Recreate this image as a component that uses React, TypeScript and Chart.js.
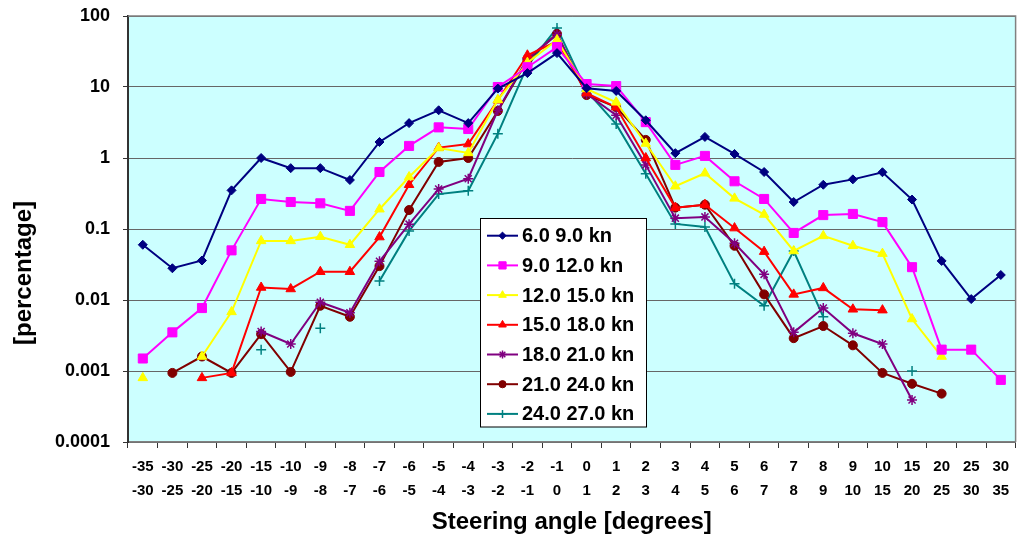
import React, { useEffect, useRef } from "react";
import { Chart, registerables } from "chart.js";
import { drawPoint } from "chart.js/helpers";

Chart.register(...registerables);

const FONT = '"Liberation Sans", Arial, Helvetica, sans-serif';

// Steering angle bins (two-line category labels)
const binFrom = ["-35", "-30", "-25", "-20", "-15", "-10", "-9", "-8", "-7", "-6", "-5", "-4", "-3", "-2", "-1", "0", "1", "2", "3", "4", "5", "6", "7", "8", "9", "10", "15", "20", "25", "30"];
const binTo = ["-30", "-25", "-20", "-15", "-10", "-9", "-8", "-7", "-6", "-5", "-4", "-3", "-2", "-1", "0", "1", "2", "3", "4", "5", "6", "7", "8", "9", "10", "15", "20", "25", "30", "35"];

const seriesNames = ["6.0 9.0 kn", "9.0 12.0 kn", "12.0 15.0 kn", "15.0 18.0 kn", "18.0 21.0 kn", "21.0 24.0 kn", "24.0 27.0 kn"];

const s6to9 = [0.06, 0.028, 0.036, 0.35, 1.0, 0.72, 0.72, 0.49, 1.68, 3.1, 4.7, 3.1, 9.5, 15.7, 30, 9.6, 8.8, 3.4, 1.17, 1.98, 1.14, 0.635, 0.24, 0.42, 0.5, 0.63, 0.26, 0.0355, 0.0103, 0.0225];
const s9to12 = [0.0015, 0.0035, 0.0077, 0.05, 0.265, 0.24, 0.23, 0.18, 0.635, 1.48, 2.7, 2.56, 10, 19, 36.5, 11, 10.3, 3.2, 0.8, 1.07, 0.47, 0.265, 0.088, 0.157, 0.163, 0.125, 0.029, 0.002, 0.002, 0.00075];
const s12to15 = [0.0008, null, 0.0016, 0.0068, 0.068, 0.068, 0.078, 0.06, 0.19, 0.54, 1.38, 1.18, 6.6, 22, 46, 9.4, 6.1, 1.6, 0.4, 0.61, 0.27, 0.16, 0.049, 0.08, 0.058, 0.045, 0.0054, 0.0016, null, null];
const s15to18 = [null, null, 0.0008, 0.00094, 0.015, 0.0143, 0.025, 0.025, 0.077, 0.42, 1.4, 1.57, 6.5, 28, 44, 8.2, 5.2, 1.0, 0.2, 0.22, 0.103, 0.048, 0.012, 0.0148, 0.0074, 0.0072, null, null, null, null];
const s18to21 = [null, null, null, null, 0.0036, 0.0024, 0.0093, 0.0066, 0.035, 0.117, 0.365, 0.51, 4.7, 25, 55, 8, 4.0, 0.8, 0.142, 0.148, 0.063, 0.023, 0.0035, 0.0077, 0.0034, 0.0024, 0.00039, null, null, null];
const s21to24 = [null, 0.00094, 0.0016, 0.00094, 0.0033, 0.00097, 0.0083, 0.0058, 0.03, 0.185, 0.88, 1.0, 4.6, 24, 56, 7.7, 5.2, 1.8, 0.2, 0.22, 0.058, 0.012, 0.0029, 0.0043, 0.0023, 0.00094, 0.00066, 0.00048, null, null];
const s24to27 = [null, null, null, null, 0.002, null, 0.004, null, 0.0185, 0.094, 0.31, 0.345, 2.2, 20, 68, 8.8, 3.0, 0.6, 0.118, 0.107, 0.017, 0.0083, 0.049, 0.0058, null, null, 0.001, null, null, null];

const yTickValues = [0.0001, 0.001, 0.01, 0.1, 1, 10, 100];

const seriesData = [s6to9, s9to12, s12to15, s15to18, s18to21, s21to24, s24to27];
const seriesColors = ["#000080", "#FF00FF", "#FFFF00", "#FF0000", "#800080", "#800000", "#008080"];
const seriesMarkers = ["rectRot", "rect", "triangle", "triangle", "star", "circle", "cross"];
const seriesRadius = [4.5, 6.4, 5.5, 5.5, 5, 4.5, 5];

const plotDecor = {
  id: "plotDecor",
  beforeDraw(chart: any) {
    const { ctx, chartArea: a } = chart;
    ctx.save();
    ctx.fillStyle = "#FFFFFF";
    ctx.fillRect(0, 0, chart.width, chart.height);
    ctx.fillStyle = "#CCFFFF";
    ctx.fillRect(a.left, a.top, a.right - a.left, a.bottom - a.top);
    ctx.restore();
  },
  beforeDatasetsDraw(chart: any) {
    const { ctx, chartArea: a } = chart;
    ctx.save();
    ctx.strokeStyle = "#808080";
    ctx.lineWidth = 1.5;
    ctx.beginPath();
    ctx.moveTo(a.left, a.top);
    ctx.lineTo(a.right, a.top);
    ctx.lineTo(a.right, a.bottom);
    ctx.stroke();
    ctx.restore();
  },
  afterDraw(chart: any) {
    const { ctx } = chart;
    ctx.save();
    // y axis title
    ctx.translate(24, 273);
    ctx.rotate(-Math.PI / 2);
    ctx.font = `bold 24px ${FONT}`;
    ctx.fillStyle = "#000";
    ctx.textAlign = "center";
    ctx.textBaseline = "middle";
    ctx.fillText("[percentage]", 0, 0);
    ctx.restore();

    // legend box
    const bx = 480.5, by = 218.5, bw = 166, bh = 208.5;
    ctx.save();
    ctx.fillStyle = "#FFFFFF";
    ctx.fillRect(bx, by, bw, bh);
    ctx.strokeStyle = "#000";
    ctx.lineWidth = 1;
    ctx.strokeRect(bx, by, bw, bh);
    chart.data.datasets.forEach((ds: any, i: number) => {
      const y = 235.7 + i * 29.7;
      ctx.strokeStyle = ds.borderColor;
      ctx.lineWidth = 2;
      ctx.beginPath();
      ctx.moveTo(487, y);
      ctx.lineTo(518, y);
      ctx.stroke();
      ctx.fillStyle = ds.pointBackgroundColor;
      ctx.strokeStyle = ds.pointBorderColor;
      ctx.lineWidth = ds.pointBorderWidth;
      drawPoint(ctx, { pointStyle: ds.pointStyle, radius: ds.pointRadius * 0.8, rotation: 0, borderWidth: ds.pointBorderWidth }, 502.5, y);
      ctx.fillStyle = "#000";
      ctx.font = `bold 20px ${FONT}`;
      ctx.textAlign = "left";
      ctx.textBaseline = "middle";
      ctx.fillText(ds.label, 522, y + 1);
    });
    ctx.restore();
  },
};

export default function App() {
  const ref = useRef<HTMLCanvasElement | null>(null);

  useEffect(() => {
    if (!ref.current) return;
    const labels = binFrom.map((f, i) => [f, binTo[i]]);
    const datasets = seriesData.map((d, i) => ({
      label: seriesNames[i],
      data: d,
      borderColor: seriesColors[i],
      backgroundColor: seriesColors[i],
      pointBackgroundColor: seriesColors[i],
      pointBorderColor: seriesColors[i],
      pointBorderWidth: seriesMarkers[i] === "star" || seriesMarkers[i] === "cross" ? 1.5 : 1,
      pointStyle: seriesMarkers[i],
      pointRadius: seriesRadius[i],
      borderWidth: 2,
      tension: 0,
      fill: false,
      spanGaps: false,
    }));

    const chart = new Chart(ref.current, {
      type: "line",
      data: { labels, datasets } as any,
      options: {
        animation: false,
        responsive: false,
        devicePixelRatio: 1,
        layout: { padding: { top: 16, right: 1, left: 0, bottom: 0 } },
        plugins: {
          legend: { display: false },
          tooltip: { enabled: false },
        },
        scales: {
          x: {
            type: "category",
            offset: true,
            afterFit: (s: any) => {
              s.height = 103;
              s.paddingLeft = 0;
              s.paddingRight = 0;
            },
            ticks: {
              autoSkip: false,
              maxRotation: 0,
              minRotation: 0,
              padding: 7,
              color: "#000",
              font: { family: FONT, size: 15, weight: "bold", lineHeight: 1.6 },
            },
            grid: {
              offset: true,
              drawOnChartArea: false,
              drawTicks: true,
              tickLength: 6,
              tickColor: "#333",
              color: "#333",
            },
            border: { display: true, color: "#808080", width: 1.5 },
            title: {
              display: true,
              text: "Steering angle [degrees]",
              color: "#000",
              font: { family: FONT, size: 24, weight: "bold" },
              padding: { top: 0, bottom: 8 },
            },
          },
          y: {
            type: "logarithmic",
            min: 0.0001,
            max: 100,
            afterBuildTicks: (s: any) => {
              s.ticks = yTickValues.map((v) => ({ value: v }));
            },
            afterFit: (s: any) => {
              s.width = 128;
              s.paddingTop = 0;
              s.paddingBottom = 0;
            },
            ticks: {
              autoSkip: false,
              padding: 13,
              color: "#000",
              font: { family: FONT, size: 18, weight: "bold" },
              callback: (v: any) => String(v),
            },
            grid: {
              color: "#666",
              lineWidth: 1,
              drawTicks: true,
              tickLength: 5,
              tickColor: "#333",
            },
            border: { display: true, color: "#333", width: 2 },
          },
        },
      } as any,
      plugins: [plotDecor],
    });
    return () => chart.destroy();
  }, []);

  return (
    <div style={{ position: "fixed", left: 0, top: 0, width: 1023, height: 545, background: "#fff" }}>
      <canvas ref={ref} width={1023} height={545} style={{ display: "block", width: 1023, height: 545 }} />
    </div>
  );
}
